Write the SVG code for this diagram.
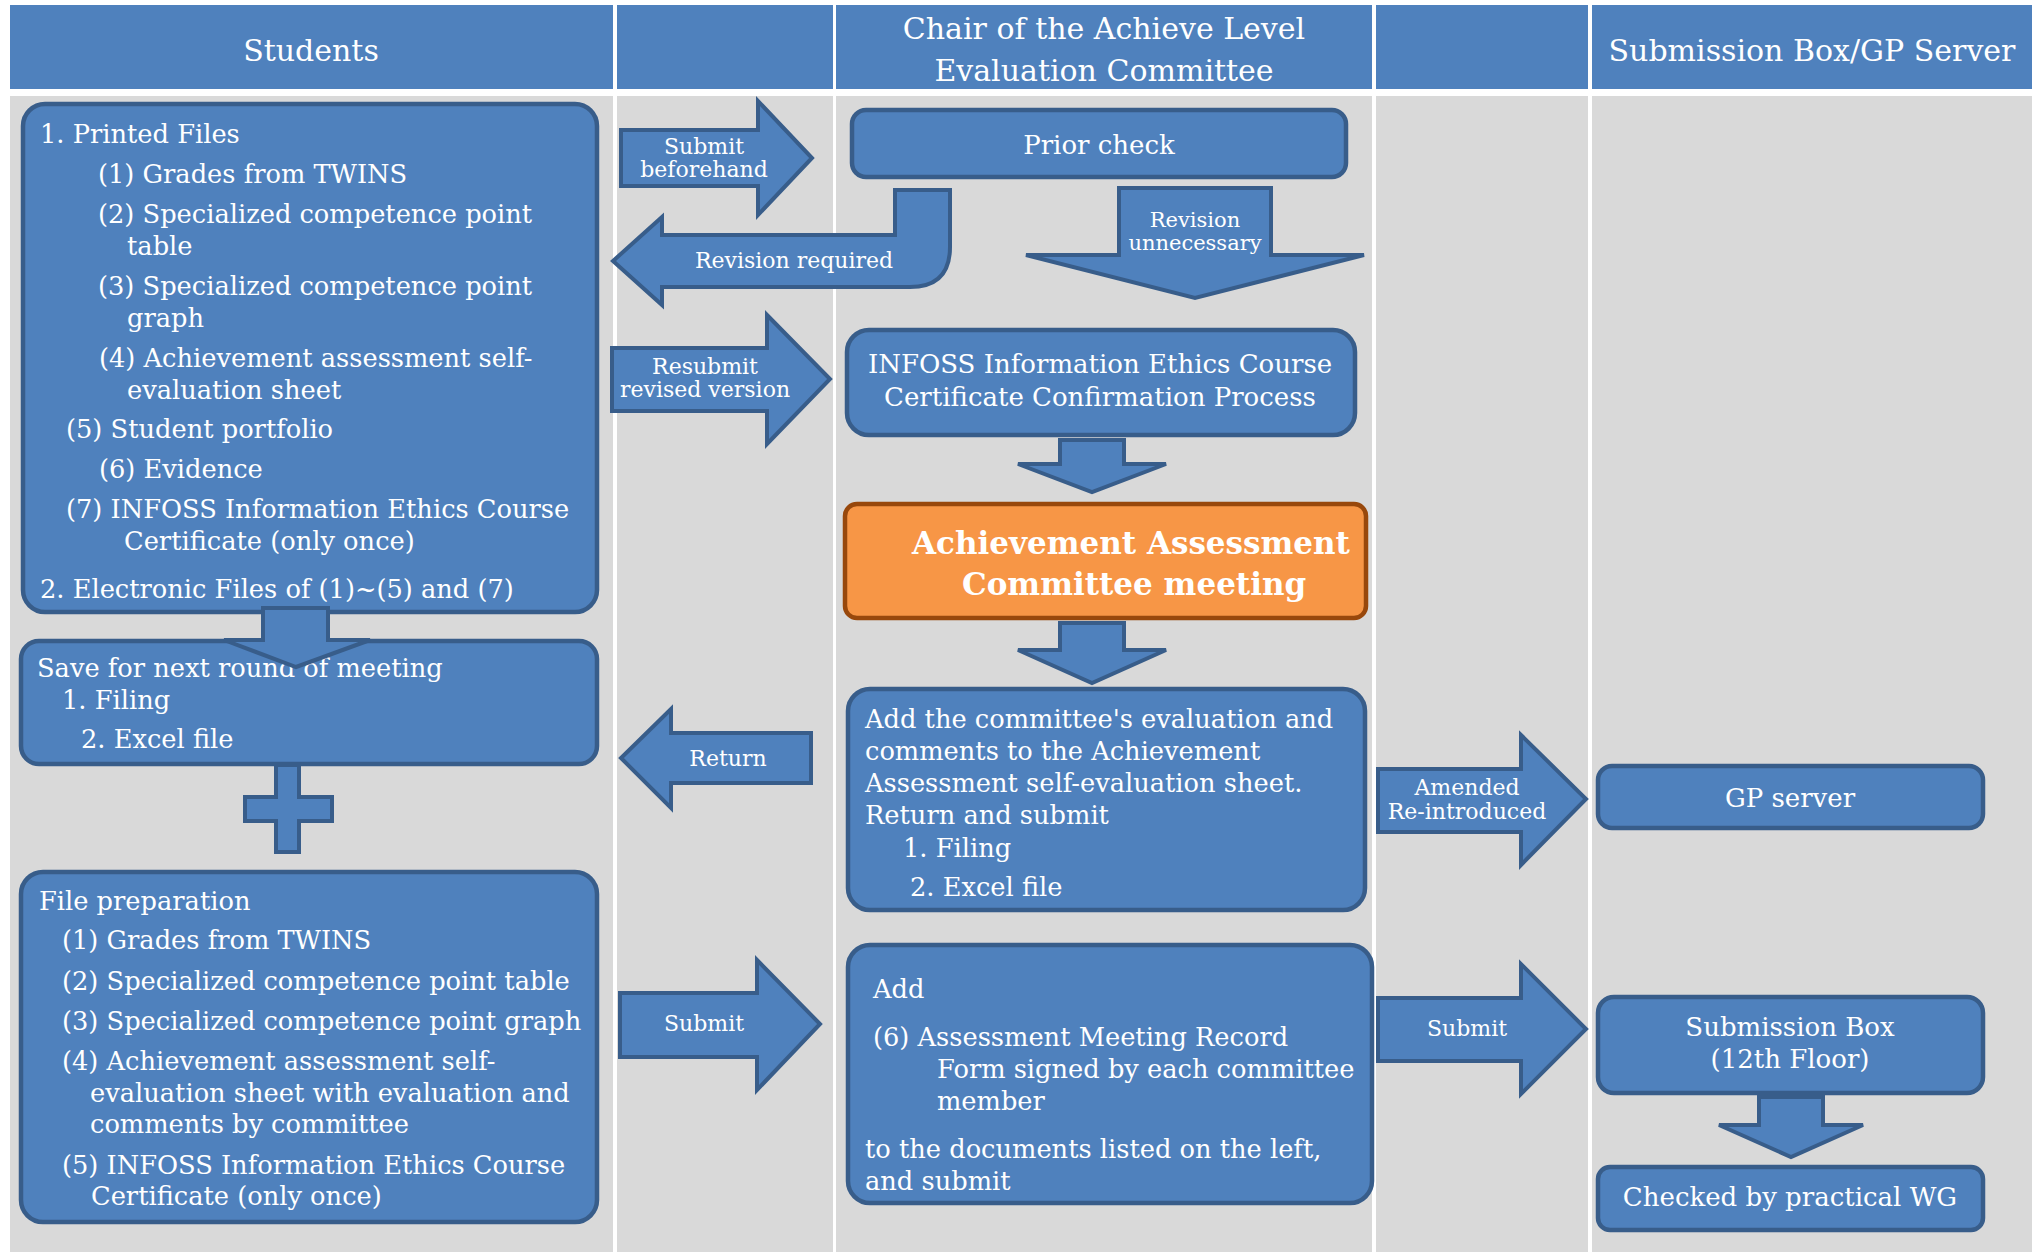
<svg xmlns="http://www.w3.org/2000/svg" width="2037" height="1252" viewBox="0 0 2037 1252">
<style>
.bg{fill:#FFFFFF}
.hdr{fill:#4F81BD}
.lane{fill:#D9D9D9}
.box{fill:#4F81BD;stroke:#385D8A;stroke-width:4.5}
.hot{fill:#F79646;stroke:#98480C;stroke-width:4.5}
.arr{fill:#4F81BD;stroke:#385D8A;stroke-width:4;stroke-linejoin:miter}
text{font-family:"DejaVu Serif","Liberation Serif",serif;fill:#FFFFFF}
.h{font-size:30px;text-anchor:middle}
.b{font-size:25.7px}
.c{font-size:26px;text-anchor:middle}
.a{font-size:22px;text-anchor:middle}
.s{font-size:21px;text-anchor:middle}
.big{font-size:31px;font-weight:bold}
</style>
<rect class="bg" x="0" y="0" width="2037" height="1252"/>
<g id="lanes">
<rect class="hdr" x="10" y="5" width="603" height="84"/>
<rect class="hdr" x="617" y="5" width="216" height="84"/>
<rect class="hdr" x="836" y="5" width="536" height="84"/>
<rect class="hdr" x="1376" y="5" width="212" height="84"/>
<rect class="hdr" x="1592" y="5" width="440" height="84"/>
<rect class="lane" x="10" y="96" width="603" height="1156"/>
<rect class="lane" x="617" y="96" width="216" height="1156"/>
<rect class="lane" x="836" y="96" width="536" height="1156"/>
<rect class="lane" x="1376" y="96" width="212" height="1156"/>
<rect class="lane" x="1592" y="96" width="440" height="1156"/>
<text class="h" x="311" y="61">Students</text>
<text class="h" x="1104" y="39">Chair of the Achieve Level</text>
<text class="h" x="1104" y="81">Evaluation Committee</text>
<text class="h" x="1812" y="61">Submission Box/GP Server</text>
</g>
<g id="printed-files">
<rect class="box" x="23" y="104" width="574" height="508" rx="22"/>
<text class="b" x="40" y="143">1. Printed Files</text>
<text class="b" x="98" y="183">(1) Grades from TWINS</text>
<text class="b" x="98" y="223">(2) Specialized competence point</text>
<text class="b" x="127" y="255">table</text>
<text class="b" x="98" y="295">(3) Specialized competence point</text>
<text class="b" x="127" y="327">graph</text>
<text class="b" x="99" y="367">(4) Achievement assessment self-</text>
<text class="b" x="127" y="399">evaluation sheet</text>
<text class="b" x="66" y="438">(5) Student portfolio</text>
<text class="b" x="99" y="478">(6) Evidence</text>
<text class="b" x="66" y="518">(7) INFOSS Information Ethics Course</text>
<text class="b" x="124" y="550">Certificate (only once)</text>
<text class="b" x="40" y="598">2. Electronic Files of (1)~(5) and (7)</text>
</g>
<g id="save-next">
<rect class="box" x="21" y="641" width="576" height="123" rx="18"/>
<text class="b" x="37" y="677">Save for next round of meeting</text>
<text class="b" x="62" y="709">1. Filing</text>
<text class="b" x="81" y="748">2. Excel file</text>
</g>
<g id="file-prep">
<rect class="box" x="21" y="872" width="576" height="350" rx="22"/>
<text class="b" x="39" y="910">File preparation</text>
<text class="b" x="62" y="949">(1) Grades from TWINS</text>
<text class="b" x="62" y="990">(2) Specialized competence point table</text>
<text class="b" x="62" y="1030">(3) Specialized competence point graph</text>
<text class="b" x="62" y="1070">(4) Achievement assessment self-</text>
<text class="b" x="90" y="1102">evaluation sheet with evaluation and</text>
<text class="b" x="90" y="1133">comments by committee</text>
<text class="b" x="62" y="1174">(5) INFOSS Information Ethics Course</text>
<text class="b" x="91" y="1205">Certificate (only once)</text>
</g>
<g id="prior-check">
<rect class="box" x="852" y="110" width="494" height="67" rx="14"/>
<text class="c" x="1099" y="154">Prior check</text>
</g>
<g id="infoss-check">
<rect class="box" x="847" y="330" width="508" height="105" rx="22"/>
<text class="c" x="1100" y="373">INFOSS Information Ethics Course</text>
<text class="c" x="1100" y="406">Certificate Confirmation Process</text>
</g>
<g id="committee-meeting">
<rect class="hot" x="845" y="504" width="521" height="114" rx="12"/>
<text class="big" x="912" y="554">Achievement Assessment</text>
<text class="big" x="962" y="595">Committee meeting</text>
</g>
<g id="add-comments">
<rect class="box" x="848" y="689" width="517" height="221" rx="22"/>
<text class="b" x="865" y="728">Add the committee's evaluation and</text>
<text class="b" x="865" y="760">comments to the Achievement</text>
<text class="b" x="865" y="792">Assessment self-evaluation sheet.</text>
<text class="b" x="865" y="824">Return and submit</text>
<text class="b" x="903" y="857">1. Filing</text>
<text class="b" x="910" y="896">2. Excel file</text>
</g>
<g id="add-record">
<rect class="box" x="848" y="945" width="524" height="258" rx="22"/>
<text class="b" x="873" y="998">Add</text>
<text class="b" x="873" y="1046">(6) Assessment Meeting Record</text>
<text class="b" x="937" y="1078">Form signed by each committee</text>
<text class="b" x="937" y="1110">member</text>
<text class="b" x="865" y="1158">to the documents listed on the left,</text>
<text class="b" x="865" y="1190">and submit</text>
</g>
<g id="gp-server">
<rect class="box" x="1598" y="766" width="385" height="62" rx="14"/>
<text class="c" x="1790" y="807">GP server</text>
</g>
<g id="submission-box">
<rect class="box" x="1598" y="997" width="385" height="96" rx="16"/>
<text class="c" x="1790" y="1036">Submission Box</text>
<text class="c" x="1790" y="1068">(12th Floor)</text>
</g>
<g id="checked-wg">
<rect class="box" x="1598" y="1167" width="385" height="63" rx="12"/>
<text class="c" x="1790" y="1206">Checked by practical WG</text>
</g>
<g id="connectors">
<path class="arr" d="M621 130H758V101L812 158L758 215V186H621Z"/>
<text class="a" x="704" y="154">Submit</text>
<text class="a" x="704" y="177">beforehand</text>
<path class="arr" d="M895 190H950V247Q950 287 910 287H662V305L613 261L662 217V235H895Z"/>
<text class="a" x="794" y="268">Revision required</text>
<path class="arr" d="M1119 188H1271V255H1364L1195 298L1026 255H1119Z"/>
<text class="s" x="1195" y="227">Revision</text>
<text class="s" x="1195" y="250">unnecessary</text>
<path class="arr" d="M612 348H767V315L830 379L767 444V411H612Z"/>
<text class="a" x="705" y="374">Resubmit</text>
<text class="a" x="705" y="397">revised version</text>
<path class="arr" d="M1060 440H1124V464H1166L1092 492L1018 464H1060Z"/>
<path class="arr" d="M1060 623H1124V650H1166L1092 683L1018 650H1060Z"/>
<path class="arr" d="M263 608H328V640H370L296 667L224 640H263Z"/>
<path class="arr" d="M276 765H299V797H332V821H299V852H276V821H245V797H276Z"/>
<path class="arr" d="M811 733H671V709L621 758L671 808V783H811Z"/>
<text class="a" x="728" y="766">Return</text>
<path class="arr" d="M620 993H757V960L820 1024L757 1090V1057H620Z"/>
<text class="a" x="704" y="1031">Submit</text>
<path class="arr" d="M1378 769H1521V735L1586 799L1521 865V832H1378Z"/>
<text class="a" x="1467" y="795">Amended</text>
<text class="a" x="1467" y="819">Re-introduced</text>
<path class="arr" d="M1378 998H1521V964L1586 1029L1521 1094V1061H1378Z"/>
<text class="a" x="1467" y="1036">Submit</text>
<path class="arr" d="M1759 1097H1823V1125H1863L1791 1157L1719 1125H1759Z"/>
</g>
</svg>
